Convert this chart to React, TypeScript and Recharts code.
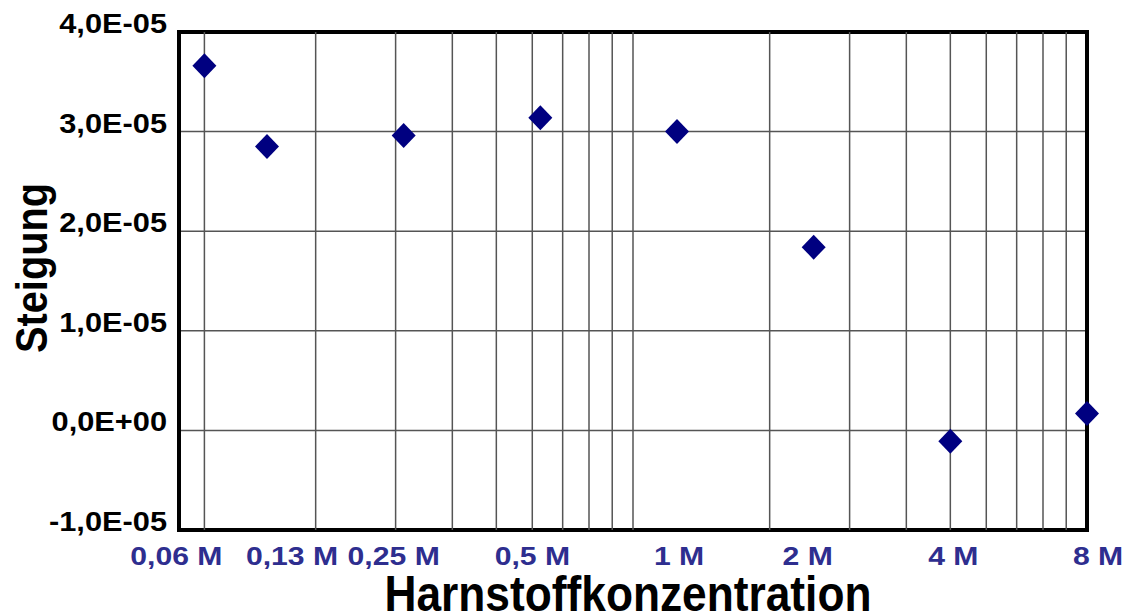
import {
  ScatterChart,
  Scatter,
  XAxis,
  YAxis,
  CartesianGrid,
  ReferenceLine,
  ReferenceArea,
} from 'recharts'

// Harnstoffkonzentration (M), log axis
const concentrations = [0.091, 0.125, 0.25, 0.5, 1, 2, 4, 8]
const concentrationLabels = ['0,06 M', '0,13 M', '0,25 M', '0,5 M', '1 M', '2 M', '4 M', '8 M']
// Steigung
const slopes = [3.66e-5, 2.85e-5, 2.96e-5, 3.14e-5, 3.0e-5, 1.84e-5, -1.1e-6, 1.7e-6]

const yTicks = [-1e-5, 0, 1e-5, 2e-5, 3e-5, 4e-5]
const xGridValues = [0.091, 0.16, 0.24, 0.32, 0.4, 0.48, 0.56, 0.64, 0.72, 0.8, 1.6, 2.4, 3.2, 4, 4.8, 5.6, 6.4, 7.2]

const FONT = '"Liberation Sans", Arial, sans-serif'
const NAVY = '#000080'
const LABEL_BLUE = '#2e2e8f'
// small horizontal nudges of the x tick labels
const xLabelNudge = [-28, 25, -10, -8, 2, -6, 3, 11]

const formatSci = (v: number) => {
  const [m, e] = v.toExponential(1).split('e')
  const sign = e.startsWith('-') ? '-' : '+'
  const digits = e.replace(/[+-]/, '').padStart(2, '0')
  return `${m.replace('.', ',')}E${sign}${digits}`
}

const XTick = (props: any) => {
  const { x, y, payload, index } = props
  const i = concentrations.indexOf(payload.value)
  const k = i >= 0 ? i : index
  return (
    <g transform={`translate(${x + (xLabelNudge[k] || 0)},${y + 35})`}>
      <text
        transform="scale(1.16,1)"
        textAnchor="middle"
        fill={LABEL_BLUE}
        fontSize={26}
        fontWeight="bold"
        fontFamily={FONT}
      >
        {concentrationLabels[k]}
      </text>
    </g>
  )
}

const YTick = (props: any) => {
  const { x, y, payload } = props
  return (
    <g transform={`translate(${x - 12},${y + 1})`}>
      <text
        transform="scale(1.14,1)"
        textAnchor="end"
        fill="#000"
        fontSize={27}
        fontWeight="bold"
        fontFamily={FONT}
      >
        {formatSci(payload.value)}
      </text>
    </g>
  )
}

const Diamond = (props: any) => {
  const { cx, cy } = props
  if (cx == null || cy == null) return null
  return (
    <path
      d={`M${cx},${cy - 12.5}L${cx + 12},${cy}L${cx},${cy + 12.5}L${cx - 12},${cy}Z`}
      fill={NAVY}
    />
  )
}

export default function App() {
  const data = concentrations.map((c, i) => ({ x: c, y: slopes[i] }))

  return (
    <div style={{ position: 'absolute', left: 0, top: 0, background: '#fff' }}>
      <ScatterChart width={1127} height={614} margin={{ top: 32, right: 40, bottom: 0, left: 0 }}>
        <CartesianGrid vertical={false} stroke="#555" strokeWidth={1.5} />
        {xGridValues.map((v) => (
          <ReferenceLine key={v} x={v} stroke="#555" strokeWidth={1.5} />
        ))}
        <ReferenceArea
          x1={0.08}
          x2={8}
          y1={-1e-5}
          y2={4e-5}
          fill="none"
          fillOpacity={0}
          stroke="#000"
          strokeWidth={4}
        />
        <XAxis
          dataKey="x"
          type="number"
          scale="log"
          domain={[0.08, 8]}
          ticks={concentrations}
          interval={0}
          axisLine={false}
          tickLine={false}
          tickSize={0}
          tickMargin={0}
          height={84}
          tick={<XTick />}
          label={{
            content: () => (
              <text
                x={628}
                y={611}
                textAnchor="middle"
                fontSize={50}
                fontWeight="bold"
                fontFamily={FONT}
                fill="#000"
                textLength={487}
                lengthAdjust="spacingAndGlyphs"
              >
                Harnstoffkonzentration
              </text>
            ),
          }}
        />
        <YAxis
          dataKey="y"
          type="number"
          domain={[-1e-5, 4e-5]}
          ticks={yTicks}
          interval={0}
          axisLine={false}
          tickLine={false}
          tickSize={0}
          tickMargin={0}
          width={179}
          tick={<YTick />}
          label={{
            content: () => (
              <text
                transform="translate(47,268) rotate(-90)"
                textAnchor="middle"
                fontSize={45}
                fontWeight="bold"
                fontFamily={FONT}
                fill="#000"
                textLength={170}
                lengthAdjust="spacingAndGlyphs"
              >
                Steigung
              </text>
            ),
          }}
        />
        <Scatter data={data} fill={NAVY} shape={<Diamond />} isAnimationActive={false} />
      </ScatterChart>
    </div>
  )
}
